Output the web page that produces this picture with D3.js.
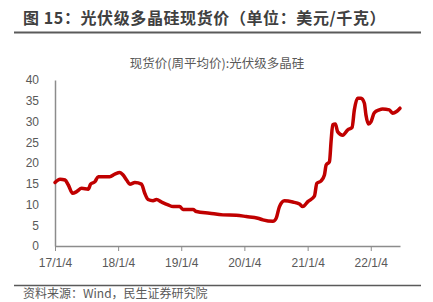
<!doctype html>
<html lang="zh">
  <head>
    <meta charset="UTF-8" />
    <title>光伏级多晶硅现货价</title>
    <script src="https://d3js.org/d3.v7.min.js"></script>
    <style>
      body { margin: 0; background: #fff; }
      svg { display: block; }
      .axis text { font-family: 'Liberation Sans', Arial, sans-serif; font-size: 12px; fill: #595959; }
      .axis path, .axis line { stroke: #8c8c8c; }
    </style>
  </head>
  <body>
    <div id="chart"></div>
    <script>
      // weekly average spot price
      const dates = [
        '2017-01-04', '2017-02-02', '2017-03-03', '2017-03-22', '2017-04-16', '2017-05-09',
        '2017-06-07', '2017-07-15', '2017-07-29', '2017-08-23', '2017-09-11', '2017-11-17',
        '2017-12-16', '2018-01-14', '2018-02-02', '2018-02-22', '2018-03-13', '2018-04-11',
        '2018-05-19', '2018-06-07', '2018-06-26', '2018-07-25', '2018-08-14', '2018-09-12',
        '2018-10-20', '2018-11-18', '2018-12-26', '2019-01-14', '2019-03-13', '2019-04-02',
        '2019-06-17', '2019-09-02', '2019-11-18', '2020-01-15', '2020-03-22', '2020-04-20',
        '2020-06-17', '2020-07-06', '2020-07-25', '2020-08-23', '2020-10-10', '2020-11-18',
        '2020-12-07', '2021-01-05', '2021-02-12', '2021-02-26', '2021-03-23', '2021-04-11',
        '2021-04-21', '2021-05-10', '2021-05-20', '2021-05-29', '2021-06-13', '2021-06-27',
        '2021-07-26', '2021-08-24', '2021-09-18', '2021-10-01', '2021-10-20', '2021-11-09',
        '2021-11-28', '2021-12-07', '2021-12-22', '2022-01-05', '2022-01-24', '2022-02-22',
        '2022-03-13', '2022-04-21', '2022-05-10', '2022-06-02', '2022-06-22'
      ];
      const prices = [
        15.3, 16.1, 15.9, 14.7, 12.7, 13.1,
        13.9, 13.7, 14.9, 15.5, 16.7, 16.7,
        17.3, 17.7, 17.1, 15.9, 14.9, 15.3,
        14.9, 12.7, 11.2, 10.9, 11.2, 10.6,
        9.9, 9.5, 9.5, 8.8, 8.8, 8.3,
        7.9, 7.5, 7.4, 7.1, 6.7, 6.3,
        5.95, 6.7, 9.5, 10.9, 10.6, 10.1,
        9.5, 10.7, 12.0, 15.1, 15.7, 17.1,
        19.5, 20.3, 25.5, 29.2, 29.4, 27.5,
        26.7, 28.0, 28.6, 32.8, 35.6, 35.6,
        34.4, 31.6, 29.4, 29.9, 32.1, 32.8,
        33.0, 32.8, 32.0, 32.4, 33.2
      ];
      const xTicks = ['2017-01-04', '2018-01-04', '2019-01-04', '2020-01-04', '2021-01-04', '2022-01-04'];
      const yTicks = [0, 5, 10, 15, 20, 25, 30, 35, 40];

      const parse = d3.timeParse('%Y-%m-%d');
      const data = dates.map((d, i) => ({ date: parse(d), value: prices[i] }));

      const width = 433, height = 302;
      const margin = { top: 80, right: 33, bottom: 56, left: 55 };

      const svg = d3.select('#chart').append('svg')
        .attr('width', width)
        .attr('height', height);

      // header
      svg.append('text')
        .attr('x', 23).attr('y', 24)
        .style('font-family', "'Noto Sans CJK SC', sans-serif")
        .style('font-size', '16px').style('font-weight', 'bold')
        .style('letter-spacing', '0.6px')
        .style('fill', '#404040')
        .text('图 15：光伏级多晶硅现货价（单位：美元/千克）');
      svg.append('line')
        .attr('x1', 14).attr('x2', 421).attr('y1', 32.5).attr('y2', 32.5)
        .attr('stroke', '#5a5a5a').attr('stroke-width', 2);

      const x = d3.scaleTime()
        .domain([parse('2017-01-04'), parse('2022-06-22')])
        .range([margin.left, width - margin.right]);
      const y = d3.scaleLinear()
        .domain([0, 40])
        .range([height - margin.bottom, margin.top]);

      // chart title
      svg.append('text')
        .attr('x', 217).attr('y', 68)
        .attr('text-anchor', 'middle')
        .style('font-family', "'Noto Sans CJK SC', sans-serif")
        .style('font-size', '12.5px')
        .style('fill', '#595959')
        .text('现货价(周平均价):光伏级多晶硅');

      svg.append('g')
        .attr('class', 'axis')
        .attr('transform', `translate(${margin.left},0)`)
        .call(d3.axisLeft(y).tickValues(yTicks).tickSize(0).tickPadding(16))
        .call(g => g.select('.domain').attr('stroke-width', 1.5));

      svg.append('g')
        .attr('class', 'axis')
        .attr('transform', `translate(0,${height - margin.bottom})`)
        .call(d3.axisBottom(x)
          .tickValues(xTicks.map(parse))
          .tickFormat(d3.timeFormat('%y/%-m/%-d'))
          .tickSizeInner(5).tickSizeOuter(0).tickPadding(7))
        .call(g => g.select('.domain').attr('stroke-width', 1.5));

      const line = d3.line()
        .x(d => x(d.date))
        .y(d => y(d.value))
        .curve(d3.curveMonotoneX);

      svg.append('path')
        .datum(data)
        .attr('fill', 'none')
        .attr('stroke', '#c00000')
        .attr('stroke-width', 3.5)
        .attr('stroke-linejoin', 'round')
        .attr('stroke-linecap', 'round')
        .attr('d', line);

      // footer
      svg.append('line')
        .attr('x1', 14).attr('x2', 421).attr('y1', 285.5).attr('y2', 285.5)
        .attr('stroke', '#5a5a5a').attr('stroke-width', 1.5);
      svg.append('text')
        .attr('x', 23).attr('y', 298)
        .style('font-family', "'Noto Sans CJK SC', sans-serif")
        .style('font-size', '12px')
        .style('fill', '#595959')
        .text('资料来源：Wind，民生证券研究院');
    </script>
  </body>
</html>
